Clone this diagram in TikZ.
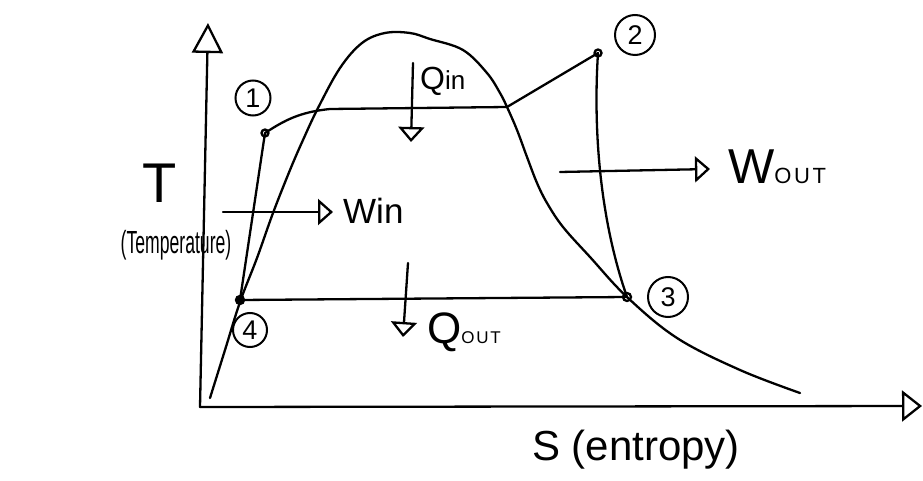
\documentclass[tikz,border=0pt]{standalone}
\usepackage{fontspec}
\setmainfont{Liberation Sans}
\usetikzlibrary{arrows.meta}
\begin{document}
\begin{tikzpicture}[x=1pt,y=-1pt,
  ln/.style={line width=2.3pt,line cap=round,line join=round},
  tri/.style={ln,-{Triangle[open,length=15pt,width=26pt,line width=2.3pt]}},
  axtri/.style={ln,-{Triangle[open,length=#1,width=31pt,line width=2.3pt]}},
  lbl/.style={circle,draw,line width=2pt,inner sep=0pt,minimum size=#1,font=\fontsize{27}{27}\selectfont},
  mk/.style={circle,draw,line width=2.3pt,inner sep=0pt,minimum size=7pt},
  txt/.style={inner sep=0pt,anchor=base west}]
\useasboundingbox (0,0) rectangle (923,481);
% axes
\coordinate (o) at (200,407);
\coordinate (ytop) at (208,23);
\coordinate (xend) at (922,406);
\draw[axtri=30pt] (o) -- (ytop);
\draw[axtri=20pt] (o) -- (xend);
% dome
\draw[ln] plot[smooth,tension=0.6] coordinates {(210,398) (225,350) (240,302) (257,258) (273,213) (290,170) (303,140) (318,108) (340,68) (362,43) (385,33) (410,33) (430,39) (463,50) (487,73) (500,93) (507,107) (517,130) (527,157) (537,183) (547,203) (563,227) (590,257) (627,297) (677,338) (740,370) (800,393)};
% state points
\coordinate (p1) at (265,133);
\coordinate (p2) at (598,53);
\coordinate (p3) at (627,297);
\coordinate (p4) at (240,300);
\draw[ln] (p1) .. controls (285,120) and (300,112) .. (330,109) -- (507,107) -- (p2);
\draw[ln] (p2) .. controls (593,130) and (600,220) .. (p3);
\draw[ln] (p3) -- (p4);
\draw[ln] (p4) -- (p1);
\node[mk] (m1) at (p1) {};
\node[mk] (m2) at (p2) {};
\node[mk,minimum size=8pt] (m3) at (p3) {};
\node[mk,fill=black,minimum size=8pt] (m4) at (p4) {};
% state labels
\node[lbl=35pt] (l1) at (253,98) {1};
\node[lbl=40pt] (l2) at (635,35) {2};
\node[lbl=40pt] (l3) at (668,297) {3};
\node[lbl=34pt] (l4) at (250,330) {4};
% heat/work arrows
\coordinate (qinA) at (413,63);
\coordinate (qinB) at (411,142);
\draw[tri] (qinA) -- (qinB);
\node[txt,font=\fontsize{32}{32}\selectfont] (qin) at (420,90) {Q{\fontsize{26}{26}\selectfont in}};
\coordinate (winA) at (223,212);
\coordinate (winB) at (333,212);
\draw[tri] (winA) -- (winB);
\node[txt,font=\fontsize{35}{35}\selectfont] (win) at (343,223) {Win};
\coordinate (woutA) at (560,172);
\coordinate (woutB) at (710,169);
\draw[tri] (woutA) -- (woutB);
\node[txt,font=\fontsize{49}{49}\selectfont] (wout) at (728,183) {W{\fontsize{22}{22}\selectfont\addfontfeature{LetterSpace=12}OUT}};
\coordinate (qoutA) at (408,263);
\coordinate (qoutB) at (403,337);
\draw[tri] (qoutA) -- (qoutB);
\node[txt,font=\fontsize{44}{44}\selectfont] (qout) at (427,343) {Q{\fontsize{17}{17}\selectfont\addfontfeature{LetterSpace=10}OUT}};
% axis labels
\node[inner sep=0pt,font=\fontsize{56}{56}\selectfont] (T) at (160,183) {T};
\node[inner sep=0pt,anchor=base,font=\fontsize{32}{32}\selectfont] (Tl) at (176,253) {\scalebox{0.55}[1]{(Temperature)}};
\node[txt,font=\fontsize{42}{42}\selectfont] (S) at (532,460) {S (entropy)};
\end{tikzpicture}
\end{document}
